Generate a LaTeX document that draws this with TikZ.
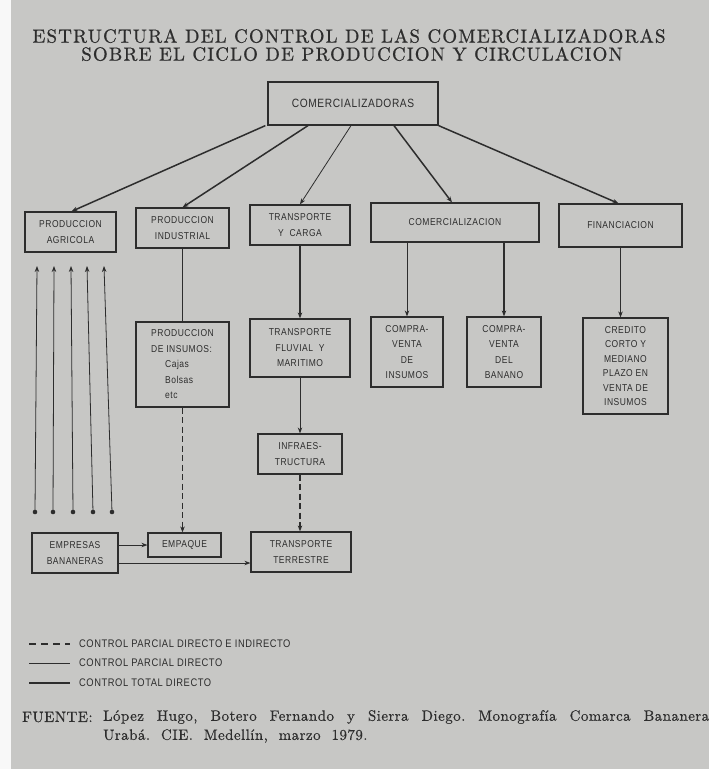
\documentclass[tikz,border=0pt]{standalone}
\usepackage{fontspec}
\newfontfamily\boxfont[FakeStretch=0.85,LetterSpace=5]{Liberation Sans}
\newfontfamily\titlefont[Extension=.otf,LetterSpace=6,FakeBold=0.7]{lmroman10-regular}
\newfontfamily\srcfont[Extension=.otf,LetterSpace=3,FakeBold=0.5]{lmroman10-regular}
\usetikzlibrary{arrows.meta,calc}
\definecolor{pagebg}{RGB}{199,199,197}
\definecolor{ink}{RGB}{45,45,45}
\frenchspacing
\begin{document}
\begin{tikzpicture}[x=1pt,y=-1pt,
  box/.style={draw=ink, line width=1.2pt, rectangle, inner sep=0pt, align=center, text=ink,
    font=\boxfont\fontsize{10}{15.5}\selectfont},
  thickc/.style={draw=ink, line width=1.5pt},
  thinc/.style={draw=ink, line width=0.8pt},
  dashc/.style={draw=ink, line width=1.1pt, dash pattern=on 6pt off 3.5pt},
  tip/.style={-{Stealth[length=6pt,width=4.5pt]}},
  titletext/.style={text=ink, inner sep=0pt, font=\titlefont\fontsize{19}{21}\selectfont},
  legtext/.style={anchor=west, text=ink, inner sep=0pt, font=\boxfont\fontsize{11}{13}\selectfont},
  srctext/.style={anchor=west, text=ink, inner sep=0pt, font=\srcfont\fontsize{15}{18}\selectfont},
]
\fill[pagebg] (0,0) rectangle (709,769);
\fill[white!88!pagebg] (0,0) rectangle (11,769);
\useasboundingbox (0,0) rectangle (709,769);

% title
\node[titletext] (t1) at (349,36) {ESTRUCTURA DEL CONTROL DE LAS COMERCIALIZADORAS};
\node[titletext] (t2) at (352,54) {SOBRE EL CICLO DE PRODUCCION Y CIRCULACION};

% boxes
\node[box, minimum width=170pt, minimum height=43pt, font=\boxfont\fontsize{12}{14}\selectfont] (top) at (353,103.5) {COMERCIALIZADORAS};
\node[box, minimum width=91pt, minimum height=40pt] (agr) at (70.5,232) {PRODUCCION\\AGRICOLA};
\node[box, minimum width=93pt, minimum height=40pt] (ind) at (182.5,228) {PRODUCCION\\INDUSTRIAL};
\node[box, minimum width=100pt, minimum height=40pt] (tyc) at (300,225) {TRANSPORTE\\Y\ \ CARGA};
\node[box, minimum width=168pt, minimum height=39pt] (com) at (455,222.5) {COMERCIALIZACION};
\node[box, minimum width=123pt, minimum height=43pt] (fin) at (620.5,225.5) {FINANCIACION};
\node[box, minimum width=93pt, minimum height=85pt, align=left] (ins) at (182.5,364.5) {PRODUCCION\\DE INSUMOS:\\\hspace*{14pt}Cajas\\\hspace*{14pt}Bolsas\\\hspace*{14pt}etc};
\node[box, minimum width=100pt, minimum height=58pt] (flu) at (300,348) {TRANSPORTE\\FLUVIAL\ \ Y\\MARITIMO};
\node[box, minimum width=72pt, minimum height=70pt] (cvi) at (407,352) {COMPRA-\\VENTA\\DE\\INSUMOS};
\node[box, minimum width=74pt, minimum height=70pt] (cvb) at (504,352) {COMPRA-\\VENTA\\DEL\\BANANO};
\node[box, minimum width=85pt, minimum height=96pt, font=\boxfont\fontsize{10}{14.5}\selectfont] (cre) at (625.5,366) {CREDITO\\CORTO Y\\MEDIANO\\PLAZO EN\\VENTA DE\\INSUMOS};
\node[box, minimum width=84pt, minimum height=40pt] (inf) at (300,454) {INFRAES-\\TRUCTURA};
\node[box, minimum width=86pt, minimum height=40pt] (emp) at (75,553) {EMPRESAS\\BANANERAS};
\node[box, minimum width=73pt, minimum height=24pt] (paq) at (184.5,545) {EMPAQUE};
\node[box, minimum width=100pt, minimum height=40pt] (ter) at (301,552) {TRANSPORTE\\TERRESTRE};

% connectors from the top box
\draw[thickc,tip] ($(top.south west)+(-2,0)$) -- ($(agr.north)+(1,0)$);
\draw[thickc,tip] ($(top.south)+(-45,0)$) -- (ind.north);
\draw[thinc,tip] ($(top.south)+(-2,0)$) -- (tyc.north);
\draw[thickc,tip] ($(top.south)+(41,0)$) -- ($(com.north)+(-3,0)$);
\draw[thickc,tip] (top.south east) -- ($(fin.north)+(-2,0)$);

% vertical connectors
\draw[thinc] (ind.south) -- (ins.north);
\draw[thickc,tip] (tyc.south) -- (flu.north);
\draw[thinc,tip] (flu.south) -- (inf.north);
\draw[dashc,tip] (inf.south) -- (inf.south |- ter.north);
\draw[dashc,tip] (ins.south) -- (ins.south |- paq.north);
\draw[thinc,tip] (cvi.north |- com.south) -- (cvi.north);
\draw[thickc,tip] (cvb.north |- com.south) -- (cvb.north);
\draw[thinc,tip] (fin.south) -- (fin.south |- cre.north);
\draw[thinc,tip] (paq.west -| emp.east) -- (paq.west);
\draw[thinc,tip] ([yshift=-10pt]emp.east) -- ([yshift=-10pt]emp.east -| ter.west);

% five arrows up to Produccion agricola
\foreach \i/\xb/\xt in {1/35/37, 2/53/54, 3/73/71, 4/93/87, 5/112/104} {
  \coordinate (d\i) at (\xb,512);
  \coordinate (u\i) at (\xt,266);
  \draw[thinc,tip] (d\i) -- (u\i);
  \fill[ink] (d\i) circle (2.3pt);
}

% legend
\coordinate (la1) at (29,644); \coordinate (lb1) at (70,644);
\coordinate (la2) at (29,663); \coordinate (lb2) at (70,663);
\coordinate (la3) at (29,683); \coordinate (lb3) at (70,683);
\draw[dashc, dash pattern=on 7pt off 5pt] (la1) -- (lb1);
\draw[thinc] (la2) -- (lb2);
\draw[thickc, line width=1.8pt] (la3) -- (lb3);
\node[legtext] (l1) at (79,644) {CONTROL PARCIAL DIRECTO E INDIRECTO};
\node[legtext] (l2) at (79,663) {CONTROL PARCIAL DIRECTO};
\node[legtext] (l3) at (79,683) {CONTROL TOTAL DIRECTO};

% source
\node[srctext] (f0) at (22,717) {FUENTE:};
\node[srctext] (f1) at (103,717) {\makebox[606pt][s]{López Hugo, Botero Fernando y Sierra Diego. Monografía Comarca Bananera}};
\node[srctext] (f2) at (103,736) {Urabá.\ \ CIE.\ \ Medellín,\ \ marzo\ \ 1979.};
\end{tikzpicture}
\end{document}
